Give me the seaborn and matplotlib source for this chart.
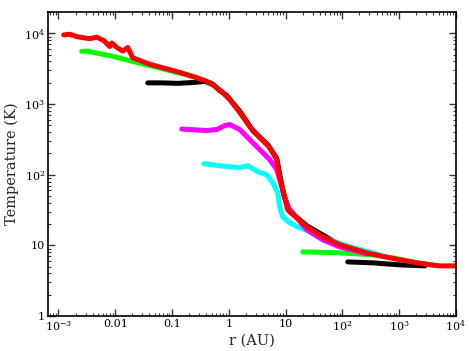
import numpy as np
import pandas as pd
import matplotlib
matplotlib.use("Agg")
import matplotlib.pyplot as plt
import seaborn as sns
from matplotlib.ticker import LogLocator, FixedLocator, FixedFormatter, NullFormatter

# --- values (r in AU, T in K) ---
red_r = [1.24e-3, 1.58e-3, 2.19e-3, 3.55e-3, 4.72e-3, 6.3e-3, 8.0e-3, 8.7e-3, 0.0107, 0.0136,
         0.0166, 0.0204, 0.0405, 0.137, 0.378, 0.522, 0.753, 1.04, 1.56, 2.34, 3.52, 5.28,
         7.0, 7.9, 8.9, 10.9, 15.8, 23.7, 45, 90, 270, 687, 2050, 5200, 10000]
red_T = [9500, 9700, 8900, 8400, 8800, 7900, 6500, 7300, 6300, 5600,
         6300, 4500, 3650, 2800, 2150, 1890, 1500, 1160, 760, 480, 335, 242,
         163, 93, 61, 32, 24.5, 18.3, 13.2, 10.2, 7.8, 6.65, 5.65, 5.12, 5.12]

green_in_r = [2.57e-3, 3.15e-3, 4.36e-3, 8.7e-3, 0.0166, 0.033, 0.066, 0.126, 0.25, 0.378, 0.52]
green_in_T = [5560, 5610, 5320, 4770, 4170, 3630, 3180, 2770, 2450, 2100, 1850]
green_out_r = [20.1, 90, 345, 776, 1740, 4000]
green_out_T = [8.09, 7.83, 7.33, 6.65, 5.83, 5.2]

black_in_r = [0.0374, 0.066, 0.126, 0.252, 0.378, 0.50, 0.69, 0.92, 1.56, 2.65, 4.87,
              7.0, 7.9, 9.3, 11.9, 23.7, 90]
black_in_T = [1990, 1990, 1960, 2020, 2090, 1960, 1550, 1320, 790, 420, 265,
              170, 100, 52, 30, 18.9, 10.2]
black_out_r = [125, 345, 1030, 2840]
black_out_T = [5.83, 5.65, 5.29, 5.12]

magenta_r = [0.149, 0.206, 0.41, 0.615, 0.85, 1.04, 1.56, 2.34, 3.52, 5.28, 7.0, 8.6,
             10.9, 23.7, 45, 90, 270]
magenta_T = [442, 435, 421, 435, 495, 512, 435, 314, 226, 163, 118, 67.5,
             35, 16.6, 12, 9.5, 7.6]

cyan_r = [0.363, 0.784, 1.56, 2.16, 3.24, 4.67, 5.96, 7.3, 7.9, 8.9, 11.9, 17.8, 30.2,
          60, 120, 460]
cyan_T = [143, 132, 126, 134, 110, 100, 77, 55.6, 35, 25.4, 20.8, 17.7, 15.0,
          12, 9.8, 7.3]

x_ticks = [1e-3, 1e-2, 1e-1, 1, 10, 1e2, 1e3, 1e4]
x_labels = ["$10^{-3}$", "0.01", "0.1", "1", "10", "$10^{2}$", "$10^{3}$", "$10^{4}$"]
y_ticks = [1, 10, 1e2, 1e3, 1e4]
y_labels = ["1", "10", "$10^{2}$", "$10^{3}$", "$10^{4}$"]


def segment(name, seg, r, T):
    return pd.DataFrame({"r": r, "T": T, "series": name, "seg": seg})


df = pd.concat([
    segment("green", "g1", green_in_r, green_in_T),
    segment("green", "g2", green_out_r, green_out_T),
    segment("black", "k1", black_in_r, black_in_T),
    segment("black", "k2", black_out_r, black_out_T),
    segment("cyan", "c1", cyan_r, cyan_T),
    segment("magenta", "m1", magenta_r, magenta_T),
    segment("red", "r1", red_r, red_T),
], ignore_index=True)

sns.set_theme(style="ticks")
plt.rcParams["font.family"] = ["DejaVu Serif"]
plt.rcParams["mathtext.fontset"] = "dejavuserif"

fig = plt.figure(figsize=(4.69, 3.51), dpi=100)
ax = fig.add_axes([0.102, 0.0997, 0.870, 0.866])

palette = {"green": "#00ff00", "black": "#000000", "cyan": "#00ffff",
           "magenta": "#ff00ff", "red": "#ff0000"}
sns.lineplot(data=df, x="r", y="T", hue="series", units="seg", estimator=None,
             sort=False, palette=palette, linewidth=3.6, legend=False, ax=ax,
             hue_order=["green", "black", "cyan", "magenta", "red"])

ax.set_xscale("log")
ax.set_yscale("log")
ax.set_xlim(6.5e-4, 1e4)
ax.set_ylim(1, 2e4)

ax.xaxis.set_major_locator(FixedLocator(x_ticks))
ax.xaxis.set_major_formatter(FixedFormatter(x_labels))
ax.yaxis.set_major_locator(FixedLocator(y_ticks))
ax.yaxis.set_major_formatter(FixedFormatter(y_labels))
ax.xaxis.set_minor_locator(LogLocator(base=10, subs=np.arange(2, 10), numticks=20))
ax.yaxis.set_minor_locator(LogLocator(base=10, subs=np.arange(2, 10), numticks=20))
ax.xaxis.set_minor_formatter(NullFormatter())
ax.yaxis.set_minor_formatter(NullFormatter())

ax.tick_params(which="both", direction="in", top=True, right=True, colors="#333333",
               labelcolor="black")
ax.tick_params(which="major", length=5, width=1.0, labelsize=8, pad=2)
ax.tick_params(which="minor", length=2.5, width=0.8)
for s in ax.spines.values():
    s.set_linewidth(1.2)
    s.set_color("black")

ax.set_xlabel("r (AU)", fontsize=10.5, labelpad=0)
ax.set_ylabel("Temperature (K)", fontsize=10.5, labelpad=4)

fig.savefig("out.png", dpi=100, facecolor="white")
